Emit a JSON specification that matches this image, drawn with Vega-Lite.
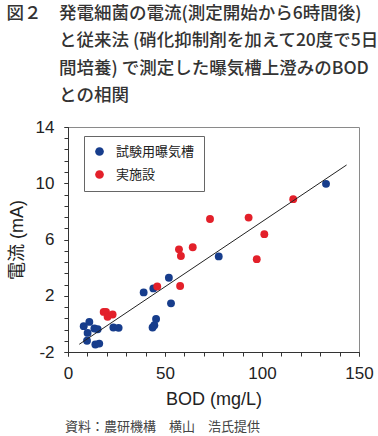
{
  "$schema": "https://vega.github.io/schema/vega-lite/v6.json",
  "padding": {"left": 6, "top": 4, "right": 4, "bottom": 4},
  "background": "white",
  "title": {
    "text": [
      "図２　発電細菌の電流(測定開始から6時間後)",
      "\u200b　　　と従来法 (硝化抑制剤を加えて20度で5日",
      "\u200b　　　間培養) で測定した曝気槽上澄みのBOD",
      "\u200b　　　との相関"
    ],
    "anchor": "start",
    "frame": "bounds",
    "font": "Noto Sans CJK JP",
    "fontSize": 17.5,
    "fontWeight": 500,
    "lineHeight": 27.5,
    "color": "#333333",
    "offset": 13,
    "dx": -1
  },
  "config": {
    "view": {"stroke": "#8a8a8a", "strokeWidth": 1},
    "axis": {
      "grid": false,
      "domainColor": "#333333",
      "tickColor": "#333333",
      "tickSize": 4,
      "labelFont": "Liberation Sans",
      "labelFontSize": 17,
      "labelColor": "#222222",
      "titleFont": "Liberation Sans, Noto Sans CJK JP",
      "titleFontSize": 18,
      "titleFontWeight": "normal",
      "titleColor": "#222222",
      "labelOverlap": false,
      "labelFlush": false
    }
  },
  "vconcat": [
    {
      "width": 291,
      "height": 225,
      "title": {
        "text": "資料：農研機構　横山　浩氏提供",
        "orient": "bottom",
        "anchor": "start",
        "frame": "bounds",
        "font": "Noto Sans CJK JP",
        "fontSize": 13,
        "fontWeight": "normal",
        "color": "#444444",
        "offset": 13,
        "dx": 57
      },
      "resolve": {"axis": {"x": "independent", "y": "independent"}},
      "layer": [
        {
          "data": {
            "values": [
              {"BOD": 8.1, "current": -0.16, "group": "試験用曝気槽"},
              {"BOD": 11.0, "current": 0.14, "group": "試験用曝気槽"},
              {"BOD": 10.1, "current": -0.64, "group": "試験用曝気槽"},
              {"BOD": 9.8, "current": -1.2, "group": "試験用曝気槽"},
              {"BOD": 13.6, "current": -0.33, "group": "試験用曝気槽"},
              {"BOD": 15.3, "current": -0.38, "group": "試験用曝気槽"},
              {"BOD": 14.1, "current": -1.47, "group": "試験用曝気槽"},
              {"BOD": 16.1, "current": -1.4, "group": "試験用曝気槽"},
              {"BOD": 23.4, "current": -0.26, "group": "試験用曝気槽"},
              {"BOD": 26.1, "current": -0.28, "group": "試験用曝気槽"},
              {"BOD": 39.0, "current": 2.24, "group": "試験用曝気槽"},
              {"BOD": 44.0, "current": 2.52, "group": "試験用曝気槽"},
              {"BOD": 43.6, "current": -0.26, "group": "試験用曝気槽"},
              {"BOD": 44.5, "current": -0.09, "group": "試験用曝気槽"},
              {"BOD": 45.4, "current": 0.35, "group": "試験用曝気槽"},
              {"BOD": 52.0, "current": 3.28, "group": "試験用曝気槽"},
              {"BOD": 53.1, "current": 1.46, "group": "試験用曝気槽"},
              {"BOD": 77.7, "current": 4.8, "group": "試験用曝気槽"},
              {"BOD": 133.0, "current": 9.96, "group": "試験用曝気槽"},
              {"BOD": 18.4, "current": 0.85, "group": "実施設"},
              {"BOD": 19.6, "current": 0.85, "group": "実施設"},
              {"BOD": 20.4, "current": 0.5, "group": "実施設"},
              {"BOD": 23.0, "current": 0.67, "group": "実施設"},
              {"BOD": 46.0, "current": 2.66, "group": "実施設"},
              {"BOD": 57.8, "current": 2.69, "group": "実施設"},
              {"BOD": 58.2, "current": 4.83, "group": "実施設"},
              {"BOD": 57.2, "current": 5.3, "group": "実施設"},
              {"BOD": 64.3, "current": 5.45, "group": "実施設"},
              {"BOD": 73.2, "current": 7.46, "group": "実施設"},
              {"BOD": 93.1, "current": 7.56, "group": "実施設"},
              {"BOD": 101.2, "current": 6.38, "group": "実施設"},
              {"BOD": 97.3, "current": 4.6, "group": "実施設"},
              {"BOD": 116.1, "current": 8.87, "group": "実施設"}
            ]
          },
          "mark": {"type": "point", "filled": true, "size": 62, "opacity": 1},
          "encoding": {
            "x": {
              "field": "BOD", "type": "quantitative",
              "scale": {"domain": [0, 150], "nice": false, "zero": false},
              "axis": {
                "orient": "bottom",
                "title": "BOD (mg/L)",
                "values": [0, 50, 100, 150],
                "labelExpr": "'' + datum.value",
                "labelPadding": 9,
                "titlePadding": 9
              }
            },
            "y": {
              "field": "current", "type": "quantitative",
              "scale": {"domain": [-2, 14], "nice": false, "zero": false},
              "axis": {
                "orient": "left",
                "title": "電流 (mA)",
                "values": [-2, 2, 6, 10, 14],
                "labelExpr": "'' + datum.value",
                "labelPadding": 10,
                "titlePadding": 9
              }
            },
            "color": {
              "field": "group", "type": "nominal",
              "scale": {"domain": ["試験用曝気槽", "実施設"], "range": ["#173d8c", "#e3202a"]},
              "legend": {
                "title": null,
                "orient": "none",
                "legendX": 16,
                "legendY": 9,
                "strokeColor": "#666666",
                "fillColor": "white",
                "padding": 9,
                "symbolType": "circle",
                "symbolSize": 75,
                "symbolStrokeWidth": 0,
                "labelFont": "Noto Sans CJK JP",
                "labelFontSize": 13,
                "labelColor": "#222222",
                "labelOffset": 10,
                "rowPadding": 9
              }
            }
          }
        },
        {
          "data": {"values": [{"BOD": 5.8, "current": -1.45}, {"BOD": 143.6, "current": 11.3}]},
          "mark": {"type": "line", "color": "#222222", "strokeWidth": 1},
          "encoding": {
            "x": {
              "field": "BOD", "type": "quantitative",
              "axis": {
                "orient": "bottom",
                "title": null,
                "labels": false,
                "domain": false,
                "values": [0, 10, 20, 30, 40, 50, 60, 70, 80, 90, 100, 110, 120, 130, 140, 150]
              }
            },
            "y": {
              "field": "current", "type": "quantitative",
              "axis": {
                "orient": "left",
                "title": null,
                "labels": false,
                "domain": false,
                "values": [-2, -1.2, -0.4, 0.4, 1.2, 2, 2.8, 3.6, 4.4, 5.2, 6, 6.8, 7.6, 8.4, 9.2, 10, 10.8, 11.6, 12.4, 13.2, 14]
              }
            }
          }
        }
      ]
    }
  ]
}
